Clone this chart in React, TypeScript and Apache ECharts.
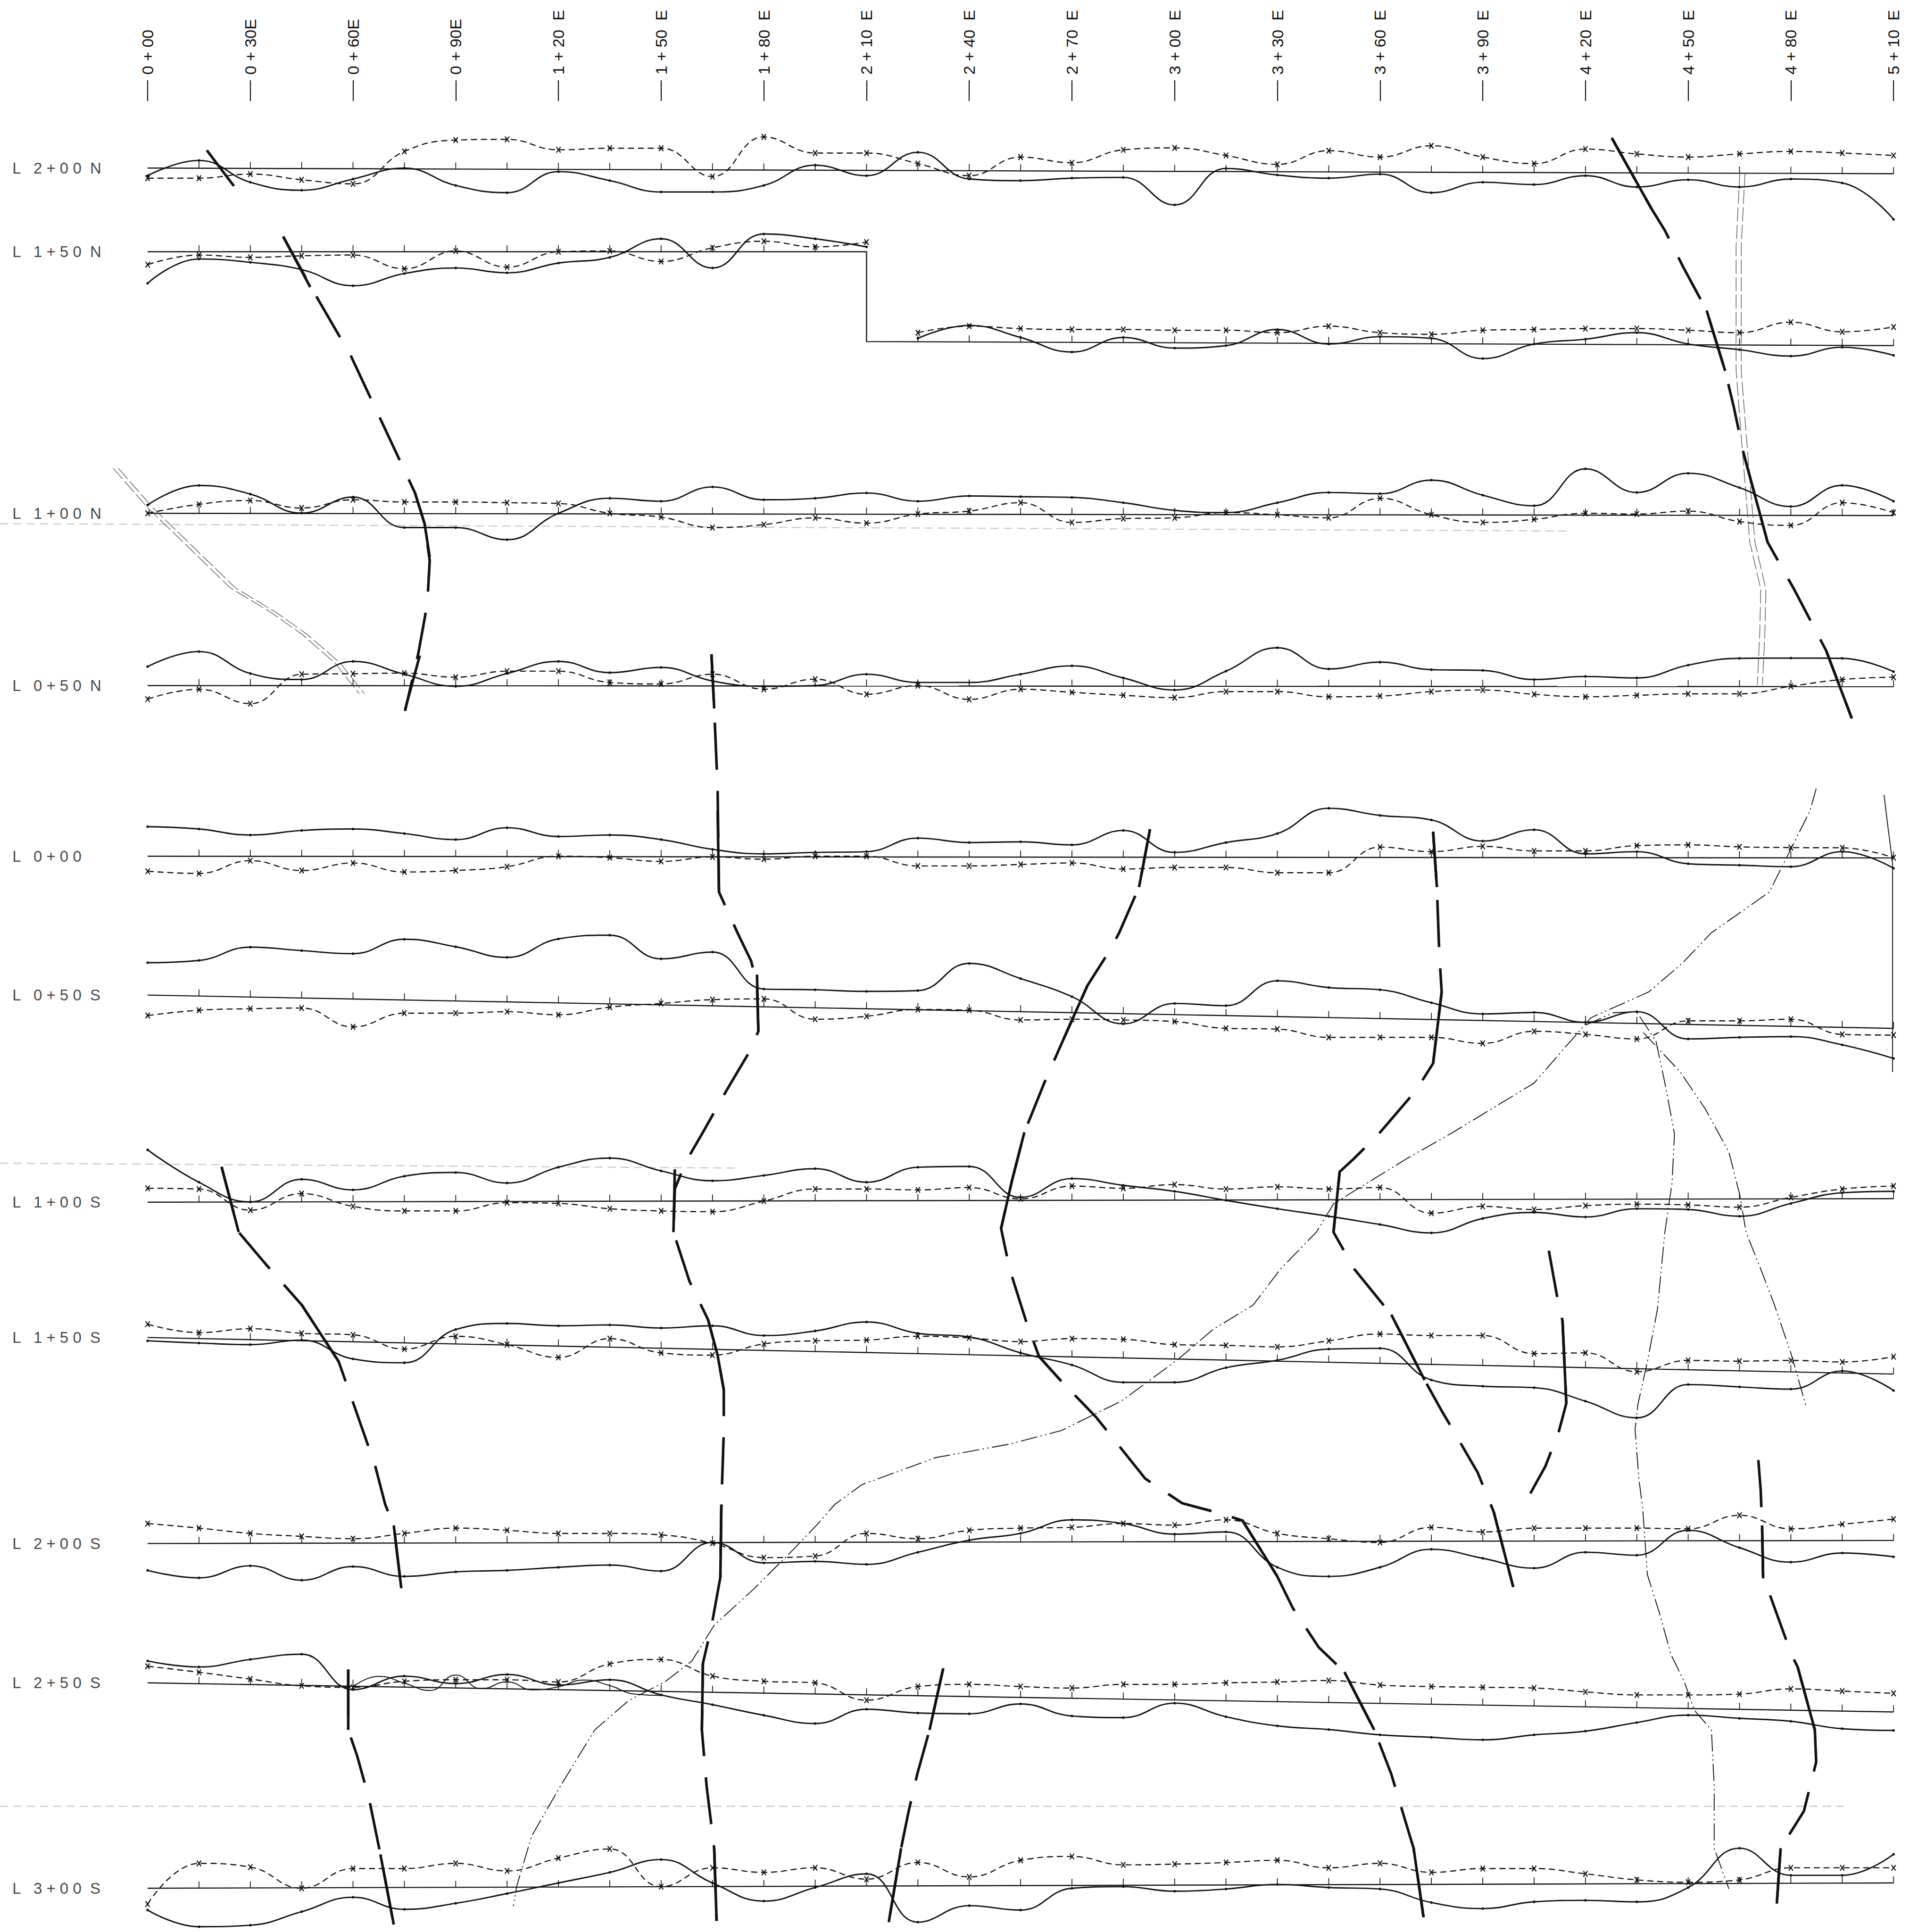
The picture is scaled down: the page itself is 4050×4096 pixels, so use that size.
import React, { useEffect, useRef } from 'react';
import * as echarts from 'echarts';

// ---------- axis frame (stations along the lines, sheet position down the page) ----------
const X_MIN = -43.12;
const X_MAX = 514.8;
const Y_TOP = 82;
const Y_BOTTOM = 1568;

const stations = [0, 15, 30, 45, 60, 75, 90, 105, 120, 135, 150, 165, 180, 195, 210, 225, 240, 255, 270, 285, 300, 315, 330, 345, 360, 375, 390, 405, 420, 435, 450, 465, 480, 495, 510];
const labelStations = [0, 30, 60, 90, 120, 150, 180, 210, 240, 270, 300, 330, 360, 390, 420, 450, 480, 510];
const stationLabels = ['0+00', '0+30E', '0+60E', '0+90E', '1+20 E', '1+50 E', '1+80 E', '2+10 E', '2+40 E', '2+70 E', '3+00 E', '3+30 E', '3+60 E', '3+90 E', '4+20 E', '4+50 E', '4+80 E', '5+10 E'];

const lineNames = ['L 2+00 N', 'L 1+50 N', 'L 1+00 N', 'L 0+50 N', 'L 0+00', 'L 0+50 S', 'L 1+00 S', 'L 1+50 S', 'L 2+00 S', 'L 2+50 S', 'L 3+00 S'];
const baseLeft = [136.4, 204.3, 416.6, 556.4, 694.9, 807.6, 975.7, 1085.5, 1252.7, 1365.8, 1532.5];
const baseRight = [141, 280.5, 418.4, 557.3, 696.3, 834.6, 972.8, 1115.2, 1250.2, 1389.4, 1528.2];
// L 1+50 N baseline steps down at 2+10 E
const l150nStepStation = 210;
const l150nLowerStart = 277.2;

// ---------- profile readings (solid = dot-dash curve, dashed = x curve) ----------
const L200N_solid = [142.6, 130.2, 147.9, 154.4, 145.3, 136.5, 150.5, 156.4, 139.3, 146.6, 155.8, 155.8, 150.5, 134.1, 142.6, 123.6, 145.3, 146.6, 144.6, 144, 166.3, 136.7, 142, 144.6, 141.3, 156.4, 147.9, 149.8, 142.6, 151.8, 145.9, 151.8, 145.3, 148.5, 178.1];
const L200N_dash = [144.6, 144.6, 141.3, 145.9, 149.2, 122.9, 113.7, 113.1, 121.6, 120.3, 120.3, 143.3, 111.1, 124.2, 124.2, 132.8, 142.6, 127.5, 132.1, 121.6, 120, 126.2, 133.4, 122.3, 127.5, 118.3, 127.5, 132.8, 121, 124.9, 127.5, 124.9, 122.9, 124.2, 126.2];

const L150N_solidW = [229.9, 210.2, 212.9, 218.8, 231.9, 222, 217.5, 221.4, 213.5, 208.9, 193.8, 217.5, 189.9, 193.8, 200.4];
const L150N_dashW = [214.8, 207, 208.9, 207.6, 207, 218.1, 203.7, 216.8, 204.3, 203.7, 212.2, 201.1, 195.8, 200.4, 196.5];
const L150N_solidE = [274.6, 264.1, 273.9, 285.7, 273.9, 282.5, 280.5, 267.4, 279.2, 273.3, 274.6, 291, 279.2, 275.3, 270, 279.2, 283.8, 289, 281.8, 288.4];
const L150N_dashE = [270, 264.7, 266.7, 267.4, 267.4, 268, 268, 270, 264.7, 270, 271.3, 268, 267.4, 266.7, 266.7, 268, 270, 261.5, 269.3, 265.4];

const L100N_solid = [409.9, 394, 401, 416.4, 403.4, 428.2, 428.2, 438, 416.6, 404.4, 406.8, 395.2, 405.6, 404.4, 400.1, 406.8, 402.5, 403.1, 403.7, 408, 414.2, 416, 408, 399.7, 400.7, 389.7, 401.9, 410.5, 380.5, 399.7, 384.1, 395.8, 411.1, 393.9, 406.8];
const L100N_dash = [416.6, 409.3, 406.2, 412.3, 405.6, 407.4, 407.4, 408, 408.6, 416.6, 419.7, 428.2, 425.8, 420.3, 424.6, 417.2, 414.8, 408, 424, 420.9, 420.3, 416, 417.8, 420.3, 404.4, 417.8, 424, 421.5, 416.6, 417.2, 414.8, 423.3, 426.4, 408, 416];

const L050N_solid = [541, 528.8, 546.6, 551.5, 536.8, 547.2, 557, 546.6, 536.8, 545.9, 541.7, 552.7, 557, 556.4, 547.2, 553.9, 553.9, 547.2, 540.4, 550.2, 560, 544.7, 525.7, 542.9, 537.4, 543.5, 544.1, 551.5, 549, 550.2, 539.8, 534.3, 534.1, 534.3, 545.1];
const L050N_dash = [567.4, 559.4, 571.1, 547.2, 546.8, 546.3, 549.6, 544.7, 544.7, 553.9, 555.1, 547.2, 559.4, 551.2, 563.5, 556.4, 567.6, 559.4, 561.9, 564.3, 566.2, 561.3, 561.3, 565.5, 564.9, 561.3, 560, 563.5, 565.5, 564.3, 563.1, 563.1, 557, 551.5, 549.6];

const L000_solid = [670.9, 672.8, 677.7, 674, 672.8, 676.5, 681.4, 671.8, 678.9, 677.7, 681.4, 689.3, 693, 691.8, 691.2, 680.2, 683.8, 683.2, 685.7, 674, 691.8, 683.8, 676.5, 656, 661.8, 665.5, 682.6, 673.4, 693, 691.2, 701, 702.2, 703.4, 691.2, 704.7];
const L000_dash = [707.1, 708.9, 698.5, 706.5, 700.4, 707.7, 706.5, 703.4, 694.9, 696.1, 699.1, 695.5, 697.3, 694.9, 694.9, 702.8, 702.8, 701.6, 700.4, 705.3, 704, 704, 708.3, 708.3, 687.5, 691.2, 686.9, 690.6, 690.6, 686.3, 685.7, 687.3, 687.9, 688.1, 696.1];

const L050S_solid = [781.3, 779.5, 768.7, 771.5, 774, 762.3, 768.4, 777, 762, 759, 778.2, 772.7, 802.7, 803.3, 804.6, 804, 781.9, 794.2, 808.9, 830.9, 814.4, 816.2, 796, 801.5, 803.3, 813.8, 822.9, 821.7, 829.7, 821.1, 843.2, 841.9, 841.3, 848, 859];
const L050S_dash = [824.2, 819.9, 818.7, 818.1, 833.4, 822.3, 822.3, 821.1, 823.6, 817.4, 814.4, 811.3, 810.7, 827.2, 824.8, 819.3, 819.9, 827.8, 827.2, 827.8, 829.1, 834.6, 835.2, 841.9, 841.9, 841.9, 846.8, 837, 839.5, 843.2, 828.5, 828.5, 827.2, 839.5, 840.1];

const L100S_solid = [933.2, 959.5, 975.5, 957.1, 965.7, 954.6, 951.6, 960.1, 947.3, 939.9, 950.3, 958.3, 954, 948.5, 959.5, 947.3, 946.7, 971.8, 956.5, 962, 966.9, 974.2, 981, 987.1, 993.8, 1000.6, 988.9, 984, 987.7, 981, 981.6, 987.1, 976.7, 968.1, 966.9];
const L100S_dash = [964.4, 965, 982.2, 968.7, 979.1, 982.8, 982.8, 976.1, 976.7, 981, 982.8, 983.4, 974.8, 965, 965, 965.7, 963.8, 973, 962.6, 964.4, 961.4, 965, 963.2, 965, 963.8, 984.6, 979.1, 981.6, 978.5, 977.3, 977.9, 979.7, 971.8, 965, 962.6];

const L150S_solid = [1088.2, 1090, 1091.3, 1087.6, 1102.9, 1106, 1079, 1074.1, 1076, 1075.3, 1077.8, 1076, 1083.9, 1080.2, 1072.9, 1082.1, 1085.1, 1098, 1107.8, 1121.9, 1121.9, 1110, 1104, 1094.9, 1094.3, 1120, 1125, 1126.2, 1137.2, 1150.7, 1123.7, 1125.6, 1127.4, 1112.7, 1128.6];
const L150S_dash = [1074.7, 1081.5, 1078.4, 1082.1, 1083.3, 1094.9, 1084.5, 1091.3, 1101.7, 1086.4, 1098, 1099.8, 1090.7, 1088.2, 1087.6, 1084.5, 1085.8, 1088.8, 1086.4, 1087, 1091.3, 1091.9, 1093.1, 1088.2, 1082.7, 1083.9, 1083.9, 1098.6, 1098, 1113.3, 1104.1, 1104.7, 1104.1, 1105.4, 1101.1];

const L200S_solid = [1274.5, 1280.6, 1270.8, 1282.5, 1271.4, 1279.4, 1275.7, 1274.5, 1272, 1270.2, 1275.1, 1251.8, 1268.4, 1267.2, 1269.6, 1259.8, 1250, 1244.5, 1233.5, 1236.5, 1245.1, 1243.3, 1272, 1279.4, 1272, 1257.4, 1264.7, 1272.7, 1259.8, 1262.2, 1242, 1256.1, 1267.8, 1260.4, 1263.5];
const L200S_dash = [1236.5, 1240.2, 1244.5, 1246.9, 1248.8, 1244.5, 1240.2, 1242, 1244.5, 1244.5, 1245.7, 1252.5, 1264.1, 1262.9, 1244.5, 1248.8, 1242, 1240.2, 1239.6, 1236.5, 1237.8, 1233.5, 1244.5, 1248.8, 1251.8, 1239.6, 1243.3, 1240.2, 1240.2, 1240.2, 1240.8, 1229.8, 1240.8, 1237.1, 1232.9];

const L250S_solid = [1348, 1352.9, 1346.8, 1342.5, 1371.3, 1360.3, 1366.4, 1359, 1367.6, 1363.3, 1375.6, 1383.5, 1392.1, 1398.8, 1387.2, 1390.3, 1390.9, 1382.9, 1392.7, 1394, 1382.3, 1393.3, 1400.7, 1403.7, 1408, 1410, 1412, 1408, 1405, 1398, 1392, 1394.6, 1397, 1403, 1404.4];
const L250S_dash = [1352.3, 1357.2, 1362.7, 1368.2, 1369.4, 1364.5, 1363.3, 1363.3, 1365.1, 1350.4, 1346.8, 1360.3, 1364.5, 1365.8, 1379.9, 1368.8, 1367, 1368.8, 1370, 1367, 1367, 1365.8, 1365.1, 1363.9, 1367.6, 1368.8, 1369.4, 1370, 1373.1, 1375.6, 1375.6, 1374.9, 1370.7, 1372.5, 1374.3];
// second (repeat) trace on L 2+50 S between 0+60 E and 1+50 E, read at half stations
const L250S_repeatStations = [60, 67.5, 75, 82.5, 90, 97.5, 105, 112.5, 120, 127.5, 135, 142.5, 150];
const L250S_repeat = [1369, 1360.5, 1366, 1372, 1359.5, 1370.5, 1365, 1371.5, 1369, 1363.5, 1368, 1375, 1376];

const L300S_solid = [1550.2, 1563.7, 1562.5, 1551.5, 1539.8, 1549.6, 1544.7, 1536.8, 1528.2, 1519.6, 1509.2, 1528.2, 1542.9, 1531.9, 1520.8, 1560, 1546.6, 1550.2, 1532.5, 1531.2, 1534.9, 1533.1, 1529.4, 1531.9, 1533.1, 1544.1, 1549, 1543.5, 1542.3, 1543.5, 1531.9, 1500, 1522, 1522, 1504.9];
const L300S_dash = [1545.3, 1512.3, 1515.3, 1532.5, 1516.5, 1516.5, 1512.3, 1518.4, 1508, 1500.6, 1531.2, 1515.9, 1519.6, 1515.9, 1525.1, 1511.6, 1523.3, 1509.8, 1506.7, 1513.5, 1512.9, 1511.6, 1509.8, 1515.9, 1512.3, 1519.6, 1516.5, 1516.5, 1520.8, 1525.7, 1527.6, 1525.7, 1515.9, 1515.9, 1515.9];

// profile sets: first station index, solid readings, dashed readings
const profiles = [
  { from: 0, solid: L200N_solid, dashed: L200N_dash },
  { from: 0, solid: L150N_solidW, dashed: L150N_dashW },
  { from: 15, solid: L150N_solidE, dashed: L150N_dashE },
  { from: 0, solid: L100N_solid, dashed: L100N_dash },
  { from: 0, solid: L050N_solid, dashed: L050N_dash },
  { from: 0, solid: L000_solid, dashed: L000_dash },
  { from: 0, solid: L050S_solid, dashed: L050S_dash },
  { from: 0, solid: L100S_solid, dashed: L100S_dash },
  { from: 0, solid: L150S_solid, dashed: L150S_dash },
  { from: 0, solid: L200S_solid, dashed: L200S_dash },
  { from: 0, solid: L250S_solid, dashed: L250S_dash },
  { from: 0, solid: L300S_solid, dashed: L300S_dash },
];

// ---------- interpreted conductor axes (station, sheet position) ----------
const conductorAxes = [
  [[39.6, 192], [47.5, 232], [59.4, 289], [78.1, 400], [80.9, 425], [82.4, 455], [81.7, 490], [79.1, 530], [75.2, 577]],
  [[164.7, 531], [165.5, 575], [166.5, 640], [166.9, 724], [172.3, 757], [176.3, 780], [178, 800], [178.4, 837], [175.5, 855], [169.1, 885], [162.2, 919], [157.2, 943], [154, 965], [153.6, 1000], [158.3, 1040], [163.7, 1071], [166.5, 1100], [168.3, 1128], [168.3, 1162], [167.6, 1220], [167.3, 1280], [164.7, 1320], [162.2, 1350], [161.9, 1404], [163.3, 1450], [165.5, 1500], [166.2, 1559]],
  [[292.8, 673], [289.6, 720], [283.8, 757], [280.9, 772], [274.5, 800], [267.6, 843], [261.9, 879], [256.1, 919], [252.5, 958], [249.3, 997], [251.8, 1030], [256.8, 1074], [260.4, 1101], [266.9, 1121], [277, 1150], [291.4, 1200], [302.2, 1220], [313, 1228], [319.8, 1234], [329.9, 1279], [334.5, 1305], [342.1, 1337], [349.6, 1357], [358.3, 1404], [363.3, 1440], [368.7, 1490], [369.8, 1500], [372.7, 1556]],
  [[375.5, 675], [376.6, 720], [377.3, 774], [378, 805], [375.5, 863], [370.5, 885], [359.7, 920], [352.5, 940], [348.2, 951], [346.4, 1000], [352.5, 1030], [363.3, 1067], [373, 1120], [378, 1145], [381.6, 1162], [388.5, 1195], [393.2, 1227], [398.9, 1288]],
  [[409.3, 1015], [411.9, 1055], [413.3, 1072], [414.4, 1139], [412.2, 1162], [408.3, 1190], [403.9, 1212]],
  [[470.5, 1185], [471.2, 1210], [471.6, 1240], [471.9, 1281], [473.7, 1293], [480.2, 1343], [482, 1353], [487, 1404], [487.4, 1430], [483.8, 1470], [477, 1500], [475.9, 1545]],
  [[427.7, 112], [439.2, 169], [443.2, 187], [448.6, 217], [455.4, 252], [460.8, 301], [463.3, 330], [466.2, 368], [473.2, 440], [480.9, 478], [490.3, 528], [497.8, 583]],
  [[21.6, 947], [26.6, 1000], [34.2, 1025], [45, 1059], [55.8, 1105], [63, 1162], [66.5, 1190], [69.4, 1221], [71.9, 1238], [74.1, 1289]],
  [[58.6, 1355], [58.6, 1404], [61.2, 1425], [64.7, 1460], [68, 1505], [71.9, 1562]],
  [[232.4, 1354], [228.4, 1404], [224.8, 1440], [222.3, 1470], [220.1, 1500], [216.5, 1560]],
];
// solid strokes where the axes cross the survey lines
const conductorCrossings = [
  [[17.3, 122], [25.2, 151]], [[39.6, 192], [47.5, 233]], [[78.1, 400], [80.9, 425], [82.4, 452]], [[79.5, 532], [75.2, 576]],
  [[164.7, 531], [165.5, 575]], [[166.5, 658], [166.9, 724]], [[178, 791], [178.4, 837]], [[154, 949], [153.6, 1000]],
  [[163.7, 1071], [166.5, 1100], [168.3, 1128]], [[167.6, 1221], [167.3, 1280]], [[162.2, 1350], [161.9, 1404]], [[165.5, 1500], [166.2, 1559]],
  [[292.8, 673], [289.6, 720]], [[274.5, 800], [267.6, 843]], [[256.1, 919], [252.5, 958], [249.3, 997]], [[260.4, 1101], [266.9, 1121]],
  [[319.8, 1234], [329.9, 1279]], [[349.6, 1357], [358.3, 1404]], [[369.8, 1500], [372.7, 1556]],
  [[375.5, 675], [376.6, 720]], [[378, 805], [375.5, 863]], [[348.2, 951], [346.4, 1000]], [[363.3, 1067], [373, 1120]], [[393.2, 1227], [398.9, 1288]],
  [[413.3, 1072], [414.4, 1139]],
  [[471.6, 1238], [471.9, 1281]], [[482, 1353], [487, 1404]], [[477, 1500], [475.9, 1545]],
  [[427.7, 112], [439.2, 169]], [[455.4, 252], [460.8, 301]], [[466.2, 368], [473.2, 440]], [[490.3, 528], [497.8, 583]],
  [[21.6, 947], [26.6, 1000]], [[45, 1059], [55.8, 1105]], [[71.9, 1238], [74.1, 1289]],
  [[58.6, 1355], [58.6, 1404]], [[68, 1505], [71.9, 1562]],
  [[232.4, 1354], [228.4, 1404]], [[220.1, 1500], [216.5, 1560]],
];

// ---------- geological contacts (thin dash-dot lines) ----------
const contacts = [
  [[487.4, 640], [485.6, 658], [473.7, 724], [456.8, 757], [448.2, 782], [438.5, 805], [421.6, 826], [405, 879], [381.3, 919], [368, 940], [346.4, 977], [341.4, 1000], [330.9, 1030], [323, 1059], [311.2, 1079], [301.1, 1103], [284.5, 1137], [266.9, 1161], [251.8, 1172], [230.2, 1183], [208.6, 1205], [200.7, 1221], [195.7, 1237], [187.4, 1261], [177.3, 1289], [165.5, 1319], [159, 1348], [151.1, 1365], [140.6, 1380], [130.6, 1404], [120.5, 1450], [112.2, 1490], [107.9, 1530], [106.8, 1547]],
  [[420, 832], [428.2, 822], [434.9, 821], [440.6, 845], [443.2, 879], [446, 920], [445.3, 960], [443.2, 1000], [441, 1063], [438.1, 1105], [435.3, 1140], [434.5, 1160], [435.6, 1200], [436.7, 1224], [438.1, 1278], [441.7, 1310], [445, 1343], [448.9, 1365], [451.8, 1388], [456.8, 1404], [457.6, 1450], [457.6, 1500], [461.9, 1533]],
  [[436.9, 838], [447.7, 870], [455, 900], [461.9, 935], [465.1, 970], [466.9, 1000], [471.2, 1030], [475.2, 1059], [480.2, 1100], [484.5, 1142]],
];
const edgeContact = [[507.2, 645], [508.3, 670], [509.7, 700], [509.7, 776], [509.7, 870]];

// ---------- roads (double lines) and faint sheet lines ----------
const roads = [
  [[-10.1, 380], [0, 412], [12.6, 446], [24.1, 477], [36, 497], [45.2, 515], [54.7, 538], [61.8, 563]],
  [[465.1, 140], [464, 200], [464, 300], [465.1, 340], [468, 440], [471.2, 478], [470.9, 515], [470.2, 556]],
];
const ROAD_GAP = 1.5;
const sheetLines = [
  [[-43.1, 425], [415.5, 431]],
  [[-43.1, 944], [172.7, 948]],
  [[-43.1, 1466], [496.4, 1466]],
];

const FONT = '"Liberation Sans", Arial, sans-serif';
const INK = '#111111';

// drafting-style spacing of the lettering
function spacedStation(label: string) {
  return label.split(' ').map((w) => w.replace('+', ' + ')).join('  ');
}
function spacedLine(label: string) {
  const parts = label.split(' ');
  let out = parts[0] + '   ' + parts[1].split('').join(' ');
  if (parts[2]) out += '  ' + parts[2];
  return out;
}

function baseAt(i: number, s: number) {
  if (i === 1) {
    if (s <= l150nStepStation) return baseLeft[1];
    return l150nLowerStart + ((baseRight[1] - l150nLowerStart) * (s - l150nStepStation)) / (510 - l150nStepStation);
  }
  return baseLeft[i] + ((baseRight[i] - baseLeft[i]) * s) / 510;
}

function buildOption() {
  const series: any[] = [];

  series.push({
    type: 'lines', coordinateSystem: 'cartesian2d', polyline: true, silent: true, z: 1,
    lineStyle: { color: '#cdcdcd', width: 2.5, type: [18, 10], opacity: 1 },
    data: sheetLines.map((c) => ({ coords: c })),
  });

  // baselines
  const baseData: any[] = [];
  lineNames.forEach((_, i) => {
    if (i === 1) {
      baseData.push({ coords: [[0, baseLeft[1]], [l150nStepStation, baseLeft[1]], [l150nStepStation, l150nLowerStart], [510, baseRight[1]]] });
    } else {
      baseData.push({ coords: [[0, baseLeft[i]], [510, baseRight[i]]] });
    }
  });
  series.push({
    type: 'lines', coordinateSystem: 'cartesian2d', polyline: true, silent: true, z: 2,
    lineStyle: { color: INK, width: 2.4, opacity: 1 },
    data: baseData,
  });

  // station ticks
  const tickData: number[][] = [];
  lineNames.forEach((_, i) => {
    stations.forEach((s) => {
      if (s === 0) return;
      if (i === 1 && s === l150nStepStation) return;
      tickData.push([s, baseAt(i, s)]);
    });
  });
  series.push({
    type: 'custom', silent: true, z: 2,
    data: tickData,
    renderItem: (params: any, api: any) => {
      const p = api.coord([api.value(0), api.value(1)]);
      return {
        type: 'line',
        shape: { x1: p[0], y1: p[1], x2: p[0], y2: p[1] - 14 },
        style: { stroke: INK, lineWidth: 1.7 },
      };
    },
  });

  // profiles
  profiles.forEach((p) => {
    series.push({
      type: 'line', silent: true, z: 3, smooth: 0.45,
      symbol: 'circle', symbolSize: 5.5, showSymbol: true, showAllSymbol: true,
      lineStyle: { color: INK, width: 2.9 },
      itemStyle: { color: INK },
      data: p.solid.map((v, k) => [stations[p.from + k], v]),
    });
    series.push({
      type: 'line', silent: true, z: 3, smooth: 0.45,
      symbol: 'path://M0,0L10,14M10,0L0,14', symbolSize: [9, 12], showSymbol: true, showAllSymbol: true,
      lineStyle: { color: INK, width: 2.4, type: [13, 8] },
      itemStyle: { color: INK, borderColor: INK, borderWidth: 2.3 },
      data: p.dashed.map((v, k) => [stations[p.from + k], v]),
    });
  });
  series.push({
    type: 'line', silent: true, z: 3, smooth: 0.5, symbol: 'none',
    lineStyle: { color: INK, width: 2 },
    data: L250S_repeat.map((v, k) => [L250S_repeatStations[k], v]),
  });

  // roads
  series.push({
    type: 'lines', coordinateSystem: 'cartesian2d', polyline: true, silent: true, z: 2,
    lineStyle: { color: '#555', width: 1.4, type: [30, 7], opacity: 1 },
    data: [
      ...roads.map((c) => ({ coords: c })),
      ...roads.map((c) => ({ coords: c.map(([s, y]) => [s + ROAD_GAP, y]) })),
    ],
  });

  // contacts
  series.push({
    type: 'lines', coordinateSystem: 'cartesian2d', polyline: true, silent: true, z: 4,
    lineStyle: { color: '#141414', width: 1.9, type: [36, 7, 3, 7, 3, 7], opacity: 1 },
    data: contacts.map((c) => ({ coords: c })),
  });
  series.push({
    type: 'lines', coordinateSystem: 'cartesian2d', polyline: true, silent: true, z: 4,
    lineStyle: { color: '#141414', width: 1.9, opacity: 1 },
    data: [{ coords: edgeContact }],
  });

  // conductor axes
  series.push({
    type: 'lines', coordinateSystem: 'cartesian2d', polyline: true, silent: true, z: 5,
    lineStyle: { color: INK, width: 5.5, type: [100, 45], opacity: 1 },
    data: conductorAxes.map((c) => ({ coords: c })),
  });
  series.push({
    type: 'lines', coordinateSystem: 'cartesian2d', polyline: true, silent: true, z: 5,
    lineStyle: { color: INK, width: 5.5, opacity: 1 },
    data: conductorCrossings.map((c) => ({ coords: c })),
  });

  // line names
  series.push({
    type: 'scatter', silent: true, z: 6, symbolSize: 0,
    data: lineNames.map((n, i) => ({ name: n, value: [-39.5, baseLeft[i]] })),
    label: {
      show: true, position: 'right', distance: 0,
      formatter: (p: any) => spacedLine(p.name),
      fontSize: 33, fontFamily: FONT, color: INK,
    },
  });

  return {
    animation: false,
    backgroundColor: '#ffffff',
    grid: { left: 0, right: 0, top: 214.2, bottom: 0, containLabel: false, outerBoundsMode: 'none' },
    xAxis: [
      { type: 'value', min: X_MIN, max: X_MAX, show: false },
      {
        type: 'value', position: 'top', min: X_MIN, max: X_MAX,
        axisLine: { show: false },
        splitLine: { show: false },
        axisTick: { show: true, length: 44, customValues: labelStations, lineStyle: { color: INK, width: 2.2 } },
        axisLabel: {
          show: true, customValues: labelStations, rotate: -90, margin: 56,
          hideOverlap: false,
          formatter: (v: number) => {
            const k = labelStations.indexOf(Math.round(v));
            return k >= 0 ? spacedStation(stationLabels[k]) : '';
          },
          fontSize: 34, fontFamily: FONT, color: INK,
        },
      },
    ],
    yAxis: { type: 'value', min: Y_TOP, max: Y_BOTTOM, inverse: true, show: false },
    series,
  };
}

export default function App() {
  const ref = useRef<HTMLDivElement>(null);
  useEffect(() => {
    if (!ref.current) return;
    const chart = echarts.init(ref.current, undefined, { renderer: 'svg' });
    chart.setOption(buildOption() as any);
    return () => chart.dispose();
  }, []);
  return (
    <div
      ref={ref}
      style={{ position: 'fixed', left: 0, top: 0, width: 4050, height: 4096, background: '#fff' }}
    />
  );
}
